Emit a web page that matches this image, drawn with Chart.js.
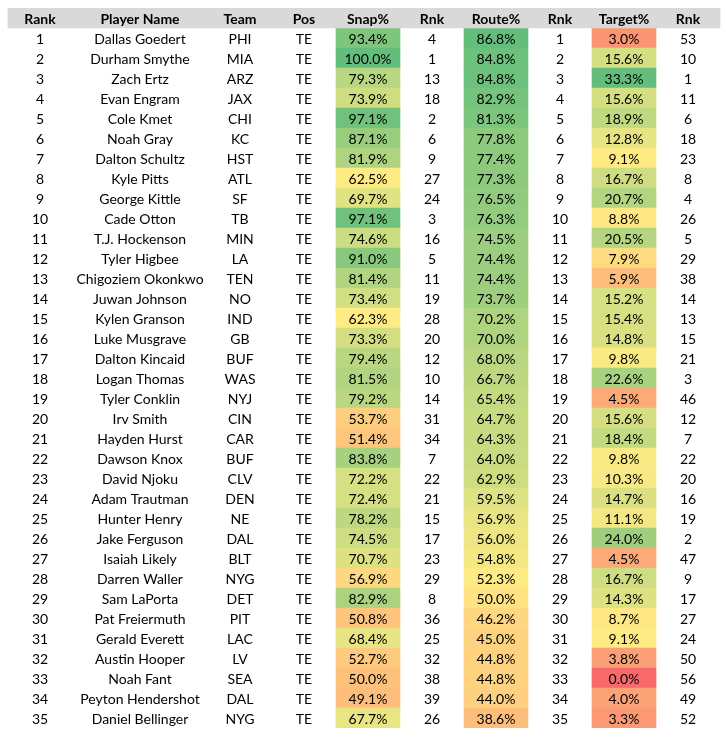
<!DOCTYPE html>
<html>
<head>
<meta charset="utf-8">
<script src="https://cdn.jsdelivr.net/npm/chart.js@4.4.1/dist/chart.umd.min.js"></script>
<style>
html,body{margin:0;padding:0;background:#fff;}
canvas{display:block;}
</style>
</head>
<body>
<canvas id="c" width="726" height="738"></canvas>
<script>
// ---- data ----
const headers = ["Rank","Player Name","Team","Pos","Snap%","Rnk","Route%","Rnk","Target%","Rnk"];
const ranks = [1,2,3,4,5,6,7,8,9,10,11,12,13,14,15,16,17,18,19,20,21,22,23,24,25,26,27,28,29,30,31,32,33,34,35];
const players = ["Dallas Goedert","Durham Smythe","Zach Ertz","Evan Engram","Cole Kmet","Noah Gray","Dalton Schultz","Kyle Pitts","George Kittle","Cade Otton","T.J. Hockenson","Tyler Higbee","Chigoziem Okonkwo","Juwan Johnson","Kylen Granson","Luke Musgrave","Dalton Kincaid","Logan Thomas","Tyler Conklin","Irv Smith","Hayden Hurst","Dawson Knox","David Njoku","Adam Trautman","Hunter Henry","Jake Ferguson","Isaiah Likely","Darren Waller","Sam LaPorta","Pat Freiermuth","Gerald Everett","Austin Hooper","Noah Fant","Peyton Hendershot","Daniel Bellinger"];
const teams = ["PHI","MIA","ARZ","JAX","CHI","KC","HST","ATL","SF","TB","MIN","LA","TEN","NO","IND","GB","BUF","WAS","NYJ","CIN","CAR","BUF","CLV","DEN","NE","DAL","BLT","NYG","DET","PIT","LAC","LV","SEA","DAL","NYG"];
const positions = Array(35).fill("TE");
const snapPct = [93.4,100.0,79.3,73.9,97.1,87.1,81.9,62.5,69.7,97.1,74.6,91.0,81.4,73.4,62.3,73.3,79.4,81.5,79.2,53.7,51.4,83.8,72.2,72.4,78.2,74.5,70.7,56.9,82.9,50.8,68.4,52.7,50.0,49.1,67.7];
const snapRnk = [4,1,13,18,2,6,9,27,24,3,16,5,11,19,28,20,12,10,14,31,34,7,22,21,15,17,23,29,8,36,25,32,38,39,26];
const routePct = [86.8,84.8,84.8,82.9,81.3,77.8,77.4,77.3,76.5,76.3,74.5,74.4,74.4,73.7,70.2,70.0,68.0,66.7,65.4,64.7,64.3,64.0,62.9,59.5,56.9,56.0,54.8,52.3,50.0,46.2,45.0,44.8,44.8,44.0,38.6];
const routeRnk = [1,2,3,4,5,6,7,8,9,10,11,12,13,14,15,16,17,18,19,20,21,22,23,24,25,26,27,28,29,30,31,32,33,34,35];
const targetPct = [3.0,15.6,33.3,15.6,18.9,12.8,9.1,16.7,20.7,8.8,20.5,7.9,5.9,15.2,15.4,14.8,9.8,22.6,4.5,15.6,18.4,9.8,10.3,14.7,11.1,24.0,4.5,16.7,14.3,8.7,9.1,3.8,0.0,4.0,3.3];
const targetRnk = [53,10,1,11,6,18,23,8,4,26,5,29,38,14,13,15,21,3,46,12,7,22,20,16,19,2,47,9,17,27,24,50,56,49,52];

// colour-scale anchors (min / mid / max of the full league list)
const snapScale = [24, 62.4, 100];
const routeScale = [13, 52.3, 86.8];
const targetScale = [0, 9.0, 33.3];

// ---- layout (pixel-space columns) ----
const colEdges = [8,72,208,272,336,400,464,528,592,656,720];
const colCenter = i => (colEdges[i] + colEdges[i+1]) / 2;

const RED=[248,105,107], YEL=[255,235,132], GRN=[99,190,123];
function scaleColor(v, s){
  let a,b,t;
  if (v <= s[1]) { a=RED; b=YEL; t=(v-s[0])/(s[1]-s[0]); }
  else { a=YEL; b=GRN; t=(v-s[1])/(s[2]-s[1]); }
  t=Math.max(0,Math.min(1,t));
  const c=a.map((x,k)=>Math.round(x+(b[k]-x)*t));
  return `rgb(${c[0]},${c[1]},${c[2]})`;
}

const rowLabels = ["header"].concat(ranks.map(String));
function cellData(ci){ return [null].concat(ranks.map(()=>[colEdges[ci], colEdges[ci+1]])); }
function cellColors(vals, s){ return ["rgba(0,0,0,0)"].concat(vals.map(v=>scaleColor(v,s))); }

const tableText = {
  id:'tableText',
  afterDatasetsDraw(chart){
    const ctx=chart.ctx, xs=chart.scales.x, ys=chart.scales.y;
    ctx.save();
    ctx.textAlign='center';
    ctx.textBaseline='middle';
    ctx.fillStyle='#000';
    ctx.font="bold 14px Lato, 'Liberation Sans', sans-serif";
    const hy=ys.getPixelForValue(0)+1.5;
    headers.forEach((h,i)=>ctx.fillText(h, xs.getPixelForValue(colCenter(i)), hy));
    ctx.font="14px Lato, 'Liberation Sans', sans-serif";
    const cols=[ranks,players,teams,positions,snapPct.map(v=>v.toFixed(1)+'%'),snapRnk,routePct.map(v=>v.toFixed(1)+'%'),routeRnk,targetPct.map(v=>v.toFixed(1)+'%'),targetRnk];
    for(let r=0;r<ranks.length;r++){
      const y=ys.getPixelForValue(r+1)+1.5;
      cols.forEach((col,i)=>ctx.fillText(String(col[r]), xs.getPixelForValue(colCenter(i)), y));
    }
    ctx.restore();
  }
};

const common={grouped:false,barPercentage:1,categoryPercentage:1,borderWidth:0,borderSkipped:false};
new Chart(document.getElementById('c'),{
  type:'bar',
  data:{
    labels:rowLabels,
    datasets:[
      Object.assign({label:'header',data:[[colEdges[0],colEdges[10]]].concat(ranks.map(()=>null)),backgroundColor:'#D9D9D9'},common),
      Object.assign({label:'Snap%',data:cellData(4),backgroundColor:cellColors(snapPct,snapScale)},common),
      Object.assign({label:'Route%',data:cellData(6),backgroundColor:cellColors(routePct,routeScale)},common),
      Object.assign({label:'Target%',data:cellData(8),backgroundColor:cellColors(targetPct,targetScale)},common)
    ]
  },
  options:{
    indexAxis:'y',
    responsive:false,
    animation:false,
    devicePixelRatio:1,
    layout:{padding:{top:8,bottom:10,left:0,right:0}},
    plugins:{legend:{display:false},tooltip:{enabled:false}},
    scales:{
      x:{type:'linear',min:0,max:726,display:false},
      y:{type:'category',display:false,offset:true}
    }
  },
  plugins:[tableText]
});
</script>
</body>
</html>
